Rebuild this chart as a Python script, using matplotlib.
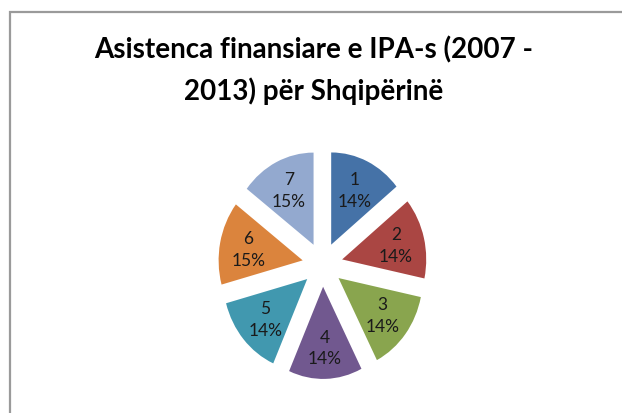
import matplotlib
matplotlib.use('Agg')
import matplotlib.pyplot as plt
from matplotlib import font_manager
from matplotlib.patches import Rectangle

# data (shares of the IPA envelope per year)
slices = ['1', '2', '3', '4', '5', '6', '7']
values = [14.14, 14.14, 14.14, 14.14, 14.14, 14.6, 14.6]
colors = ['#4572A7', '#AA4643', '#89A54E', '#71588F', '#4198AF', '#DB843D', '#93A9CF']
title_lines = ['Asistenca finansiare e IPA-s (2007 -', '2013) për Shqipërinë']

installed = {f.name for f in font_manager.fontManager.ttflist}
title_font = 'Liberation Sans Narrow' if 'Liberation Sans Narrow' in installed else 'Lato'

W, H = 622, 414
fig = plt.figure(figsize=(W / 100, H / 100), dpi=100)
fig.patch.set_facecolor('white')

# chart frame (runs off the right and bottom edges)
fig.add_artist(Rectangle((9.5 / W, -0.1), 1.2, 1 - 12.5 / H + 0.1,
                         transform=fig.transFigure, fill=False,
                         ec='#9a9a9a', lw=1.6))

fig.text(314 / W, 1 - 58 / H, title_lines[0], ha='center', va='baseline',
         fontsize=20, fontweight='bold', family=title_font, color='black')
fig.text(314 / W, 1 - 100 / H, title_lines[1], ha='center', va='baseline',
         fontsize=20, fontweight='bold', family=title_font, color='black')

total = sum(values)
labels = iter(['{}\n{:.0f}%'.format(n, v / total * 100) for n, v in zip(slices, values)])

# pie axes, slightly taller than wide like the stretched original
ax = fig.add_axes([0.3157, 0.0244, 0.4056, 0.668])
wedges, texts, autotexts = ax.pie(values, colors=colors, startangle=90, counterclock=False,
                                  explode=[0.24] * len(values), autopct=lambda p: next(labels),
                                  pctdistance=0.66, wedgeprops=dict(linewidth=0))
for t in autotexts:
    t.set_fontfamily('Lato')
    t.set_fontsize(12.5)
    t.set_color('#1a1a1a')
    t.set_linespacing(1.45)
ax.set_aspect('auto')
ax.set_xlim(-1.5, 1.5)
ax.set_ylim(-1.5, 1.5)
ax.axis('off')

fig.savefig('out.png', dpi=100)
